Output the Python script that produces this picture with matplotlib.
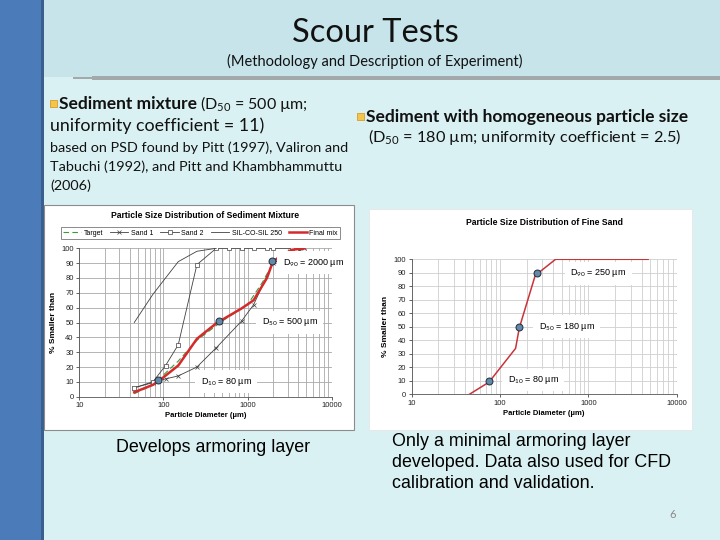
import matplotlib
matplotlib.use('Agg')
import matplotlib.pyplot as plt
from matplotlib.patches import Rectangle
from matplotlib.ticker import LogLocator, FixedLocator, NullFormatter

plt.rcParams['mathtext.fontset'] = 'custom'
plt.rcParams['mathtext.rm'] = 'Lato'
plt.rcParams['mathtext.it'] = 'Lato:italic'
plt.rcParams['mathtext.bf'] = 'Lato:bold'

W, H = 720, 540

# ---------------- data ----------------
# Sediment mixture chart
target_d = [45, 75, 150, 250, 500, 1000, 1500, 2000, 4750]
target_pct = [2, 8, 24, 38, 51, 62, 77, 90, 100]
sand1_d = [45, 75, 106, 150, 250, 425, 850, 1180, 2000, 4750]
sand1_pct = [6, 9.5, 12, 14, 20, 33, 51, 62, 90, 100]
sand2_d = [45, 75, 106, 150, 250, 425, 600, 850, 1180, 1700, 2000, 3350]
sand2_pct = [6, 10, 21, 35, 89, 100, 100, 100, 100, 100, 100, 100]
sil_d = [45, 75, 106, 150, 250, 425]
sil_pct = [50, 69, 80, 91, 98, 100]
final_d = [45, 75, 90, 150, 250, 425, 850, 1180, 1700, 2000, 2360, 3350, 4750]
final_pct = [3, 8, 11, 21, 39, 49.5, 59.5, 65, 80, 91, 94, 99, 100]
mix_marker_d = [86, 455, 1950]
mix_marker_pct = [11, 51, 91.5]
mix_labels = ['D$_{10}$ = 80 µm', 'D$_{50}$ = 500 µm', 'D$_{90}$ = 2000 µm']
mix_label_d = [560, 3185, 6030]
mix_label_pct = [10, 50, 90.3]

# Fine sand chart
fine_d = [45, 75, 150, 165, 250, 425, 4750]
fine_pct = [0, 9, 34, 49, 88, 100, 100]
fine_marker_d = [75, 165, 260]
fine_marker_pct = [10, 50, 90]
fine_labels = ['D$_{10}$ = 80 µm', 'D$_{50}$ = 180 µm', 'D$_{90}$ = 250 µm']
fine_label_d = [238, 568, 1298]
fine_label_pct = [10.6, 50, 89.6]

x_ticks = [10, 100, 1000, 10000]
y_ticks = list(range(0, 101, 10))

# ---------------- figure ----------------
fig = plt.figure(figsize=(W / 100, H / 100), dpi=100)
fig.patch.set_facecolor('#daf1f3')


def px_rect(x0, y0, x1, y1, **kw):
    r = Rectangle((x0 / W, 1 - y1 / H), (x1 - x0) / W, (y1 - y0) / H,
                  transform=fig.transFigure, **kw)
    fig.add_artist(r)
    return r


# header and decorations
px_rect(0, 0, W, 77, facecolor='#c6e4ea', edgecolor='none', zorder=0)
px_rect(73, 77, 92, 78.5, facecolor='#a3a8aa', edgecolor='none', zorder=1)
px_rect(92, 76.5, W, 80, facecolor='#a3a8aa', edgecolor='none', zorder=1)
px_rect(0, 0, 42, H, facecolor='#4b7bb9', edgecolor='none', zorder=2)
px_rect(41, 0, 43.5, H, facecolor='#3a5f8e', edgecolor='none', zorder=2)

SANS = ['Lato', 'DejaVu Sans']
ARIAL = ['Liberation Sans', 'DejaVu Sans']


def ftext(x, y, s, **kw):
    return fig.text(x / W, 1 - y / H, s, **kw)


ftext(375, 33, 'Scour Tests', ha='center', va='center', fontsize=23.5,
      family=SANS, color='#111111')
ftext(375, 61, '(Methodology and Description of Experiment)', ha='center',
      va='center', fontsize=10.5, family=SANS, color='#111111')

# bullets
px_rect(50, 100, 57, 107, facecolor='#f2c649', edgecolor='#d99a2b', lw=0.6, zorder=3)
px_rect(357, 113, 364, 120, facecolor='#f2c649', edgecolor='#d99a2b', lw=0.6, zorder=3)

BIG = 12.5
SMALL = 10.4
t1 = ftext(59, 104, 'Sediment mixture', ha='left', va='center', fontsize=BIG,
           family=SANS, weight='bold', color='#111111')
ftext(366, 117, 'Sediment with homogeneous particle size', ha='left',
      va='center', fontsize=BIG, family=SANS, weight='bold', color='#111111')
ftext(50, 126, 'uniformity coefficient = 11)', ha='left', va='center',
      fontsize=12.8, family=SANS, color='#111111')
ftext(368, 137, '($\\mathrm{D}_{50}$ = 180 µm; uniformity coefficient = 2.5)',
      ha='left', va='center', fontsize=11.7, family=SANS, color='#111111')
ftext(50, 148, 'based on PSD found by Pitt (1997), Valiron and', ha='left',
      va='center', fontsize=SMALL, family=SANS, color='#111111')
ftext(50, 167, 'Tabuchi (1992), and Pitt and Khambhammuttu', ha='left',
      va='center', fontsize=SMALL, family=SANS, color='#111111')
ftext(50, 186, '(2006)', ha='left', va='center', fontsize=SMALL, family=SANS,
      color='#111111')

fig.canvas.draw()
renderer = fig.canvas.get_renderer()
bb = t1.get_window_extent(renderer=renderer)
ftext(bb.x1 + 3, 104, '($\\mathrm{D}_{50}$ = 500 µm;', ha='left', va='center',
      fontsize=11.5, family=SANS, color='#111111')

# bottom texts
ftext(213, 447, 'Develops armoring layer', ha='center', va='center',
      fontsize=12.9, family=ARIAL, color='#000000')
for i, s in enumerate(['Only a minimal armoring layer',
                       'developed. Data also used for CFD',
                       'calibration and validation.']):
    ftext(392, 441 + i * 21.5, s, ha='left', va='center', fontsize=12.9,
          family=ARIAL, color='#000000')
ftext(673, 514, '6', ha='center', va='center', fontsize=8, family=SANS,
      color='#8a8a8a')

# chart backgrounds
px_rect(44, 205, 354, 430, facecolor='white', edgecolor='#8c8c8c', lw=0.8, zorder=3)
px_rect(369, 209, 692, 430, facecolor='white', edgecolor='#e6e6e6', lw=0.6, zorder=3)


def make_axes(x0, y0, x1, y1):
    ax = fig.add_axes([x0 / W, 1 - y1 / H, (x1 - x0) / W, (y1 - y0) / H], zorder=5)
    ax.set_facecolor('none')
    return ax


def style_axes(ax, gridcolor):
    ax.set_xscale('log')
    ax.set_xlim(10, 10000)
    ax.set_ylim(0, 100)
    ax.xaxis.set_major_locator(FixedLocator(x_ticks))
    ax.set_xticklabels([str(v) for v in x_ticks])
    ax.xaxis.set_minor_locator(LogLocator(base=10, subs=range(2, 10)))
    ax.xaxis.set_minor_formatter(NullFormatter())
    ax.yaxis.set_major_locator(FixedLocator(y_ticks))
    ax.grid(True, which='both', axis='x', color=gridcolor, lw=0.6)
    ax.grid(True, which='major', axis='y', color=gridcolor, lw=0.6)
    ax.set_axisbelow(True)
    ax.tick_params(axis='both', which='major', labelsize=5.5, length=2,
                   width=0.5, colors='#222222', pad=2)
    ax.tick_params(axis='x', which='minor', length=0)
    for lab in ax.get_xticklabels() + ax.get_yticklabels():
        lab.set_family(ARIAL)
    for side in ['top', 'right']:
        ax.spines[side].set_visible(False)
    for side in ['left', 'bottom']:
        ax.spines[side].set_color('#555555')
        ax.spines[side].set_linewidth(0.6)
    ax.set_xlabel('Particle Diameter (µm)', fontsize=5.5, family=ARIAL,
                  weight='bold', labelpad=2)
    ax.set_ylabel('% Smaller than', fontsize=6, family=ARIAL, weight='bold',
                  labelpad=3)


bbox_kw = dict(boxstyle='square,pad=0.6', facecolor='white', edgecolor='none')

# ---- left chart ----
ax1 = make_axes(79.3, 248.3, 331.7, 396.7)
style_axes(ax1, '#a8a8a8')
ax1.plot(target_d, target_pct, color='#3c9a3c', lw=0.8, ls=(0, (5, 3)),
         label='Target', zorder=3)
ax1.plot(sand1_d, sand1_pct, color='#404040', lw=0.6, marker='x', ms=2.2,
         mew=0.5, label='Sand 1', zorder=3)
ax1.plot(sand2_d, sand2_pct, color='#404040', lw=0.6, marker='s', ms=2.2,
         mew=0.5, mfc='white', label='Sand 2', zorder=3)
ax1.plot(sil_d, sil_pct, color='#404040', lw=0.6, label='SIL-CO-SIL 250',
         zorder=3)
ax1.plot(final_d, final_pct, color='#d42a2a', lw=1.8, label='Final mix',
         zorder=4)
ax1.plot(mix_marker_d, mix_marker_pct, ls='none', marker='o', ms=5,
         mfc='#6488a8', mec='#1d2e3e', mew=0.7, zorder=6)
for s, d, p in zip(mix_labels, mix_label_d, mix_label_pct):
    ax1.text(d, p, s, fontsize=6.5, family=ARIAL, ha='center', va='center',
             bbox=bbox_kw, zorder=7, clip_on=False)
ax1.set_title('Particle Size Distribution of Sediment Mixture', fontsize=6.2,
              family=ARIAL, weight='bold', pad=22)
leg = ax1.legend(loc='center', bbox_to_anchor=(0.48, 1.103), ncol=5,
                 frameon=True, fancybox=False, edgecolor='#555555',
                 handlelength=2.6, columnspacing=1.0, handletextpad=0.4,
                 borderpad=0.3, prop={'family': ARIAL, 'size': 5})
leg.get_frame().set_linewidth(0.6)

# ---- right chart ----
ax2 = make_axes(411.7, 259.3, 676.7, 394.3)
style_axes(ax2, '#cfcfcf')
ax2.plot(fine_d, fine_pct, color='#c8343a', lw=1.1, zorder=3)
ax2.plot(fine_marker_d, fine_marker_pct, ls='none', marker='o', ms=5,
         mfc='#6488a8', mec='#1d2e3e', mew=0.7, zorder=6)
for s, d, p in zip(fine_labels, fine_label_d, fine_label_pct):
    ax2.text(d, p, s, fontsize=6.5, family=ARIAL, ha='center', va='center',
             bbox=bbox_kw, zorder=7)
ax2.set_title('Particle Size Distribution of Fine Sand', fontsize=6.2,
              family=ARIAL, weight='bold', pad=25)

fig.savefig('out.png', dpi=100, facecolor=fig.get_facecolor())
